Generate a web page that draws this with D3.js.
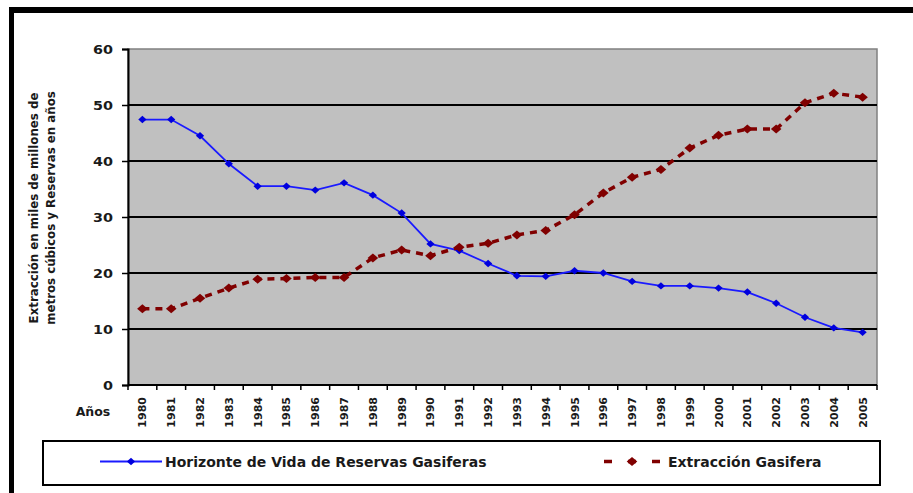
<!DOCTYPE html>
<html>
<head>
<meta charset="utf-8">
<script src="https://cdn.jsdelivr.net/npm/d3@7"></script>
<style>
  html, body { margin: 0; padding: 0; background: #fff; }
  svg { display: block; font-family: "DejaVu Sans", Verdana, sans-serif; }
</style>
</head>
<body>
<svg id="chart" width="913" height="493"></svg>
<script>
// Years on the category axis
const years = ["1980","1981","1982","1983","1984","1985","1986","1987","1988","1989",
               "1990","1991","1992","1993","1994","1995","1996","1997","1998","1999",
               "2000","2001","2002","2003","2004","2005"];
// Reserve life horizon (years)
const reservas = [47.4,47.4,44.5,39.5,35.5,35.5,34.8,36.1,33.9,30.7,
                  25.2,24.0,21.7,19.5,19.4,20.4,20.0,18.5,17.7,17.7,
                  17.3,16.6,14.6,12.1,10.2,9.4];
// Gas extraction (thousand million cubic metres)
const extraccion = [13.6,13.6,15.5,17.3,18.9,19.0,19.2,19.2,22.7,24.1,
                    23.1,24.6,25.3,26.8,27.6,30.4,34.3,37.1,38.5,42.3,
                    44.6,45.7,45.7,50.4,52.1,51.4];
const yTicks = [0,10,20,30,40,50,60];
const seriesNames = ["Horizonte de Vida de Reservas Gasiferas", "Extracción Gasifera"];
const yTitle = ["Extracción en miles de millones de", "metros cúbicos y Reservas en años"];
const xTitle = "Años";

const svg = d3.select("#chart");
const W = 913, H = 493;
const plot = { left: 128, right: 877, top: 49, bottom: 385 };

// Outer frame (top and left edges only)
svg.append("rect").attr("x", 9).attr("y", 7).attr("width", W - 9).attr("height", 6).attr("fill", "#000");
svg.append("rect").attr("x", 9).attr("y", 7).attr("width", 5).attr("height", H - 7).attr("fill", "#000");

const x = d3.scaleBand().domain(years).range([plot.left, plot.right]);
const y = d3.scaleLinear().domain([0, 60]).range([plot.bottom, plot.top]);
const cx = i => x(years[i]) + x.bandwidth() / 2;

// Plot area
svg.append("rect")
  .attr("x", plot.left).attr("y", plot.top)
  .attr("width", plot.right - plot.left).attr("height", plot.bottom - plot.top)
  .attr("fill", "#c0c0c0").attr("stroke", "#808080").attr("stroke-width", 1.5);

// Horizontal gridlines
svg.append("g").selectAll("line")
  .data(yTicks.filter(t => t > 0 && t < 60))
  .join("line")
  .attr("x1", plot.left).attr("x2", plot.right)
  .attr("y1", d => y(d)).attr("y2", d => y(d))
  .attr("stroke", "#000").attr("stroke-width", 2);

// Y axis
const yAxis = svg.append("g")
  .attr("transform", `translate(${plot.left},0)`)
  .call(d3.axisLeft(y).tickValues(yTicks).tickSize(6).tickPadding(5).tickFormat(d3.format("d")));
yAxis.select(".domain").attr("stroke", "#000").attr("stroke-width", 2);
yAxis.selectAll(".tick line").attr("stroke", "#000").attr("stroke-width", 1.5);
yAxis.selectAll(".tick text")
  .attr("font-family", "'DejaVu Sans', sans-serif")
  .attr("font-size", 12.5).attr("font-weight", "bold").attr("fill", "#1a1a1a")
  .attr("transform", "scale(1.15,1)").attr("dx", -2);

// X axis: ticks on band boundaries
const xAxisG = svg.append("g");
xAxisG.append("line")
  .attr("x1", plot.left).attr("x2", plot.right)
  .attr("y1", plot.bottom).attr("y2", plot.bottom)
  .attr("stroke", "#000").attr("stroke-width", 2);
xAxisG.selectAll("line.tk")
  .data(years.concat(["end"]))
  .join("line").attr("class", "tk")
  .attr("x1", d => d === "end" ? plot.right : x(d))
  .attr("x2", d => d === "end" ? plot.right : x(d))
  .attr("y1", plot.bottom).attr("y2", plot.bottom + 5)
  .attr("stroke", "#000").attr("stroke-width", 1.5);
xAxisG.selectAll("text")
  .data(years)
  .join("text")
  .attr("transform", d => `translate(${x(d) + x.bandwidth() / 2 + 4},${plot.bottom + 12}) rotate(-90)`)
  .attr("text-anchor", "end")
  .attr("font-size", 11).attr("font-weight", "bold").attr("fill", "#1a1a1a")
  .text(d => d);

svg.append("text")
  .attr("x", 93).attr("y", 416)
  .attr("text-anchor", "middle")
  .attr("font-size", 12.5).attr("font-weight", "bold").attr("fill", "#1a1a1a")
  .text(xTitle);

// Y axis title (two lines)
yTitle.forEach((t, i) => {
  svg.append("text")
    .attr("transform", `translate(${38 + i * 17},208) rotate(-90)`)
    .attr("text-anchor", "middle")
    .attr("font-size", 11.8).attr("font-weight", "bold").attr("fill", "#1a1a1a")
    .text(t);
});

// Rhombus marker: a square turned 45°, flattened a little
const square = d3.symbol().type(d3.symbolSquare);
const marker = (sel, size, sy) => sel
  .attr("d", square.size(size)())
  .attr("transform", function () {
    return this.getAttribute("data-t") + ` scale(1,${sy}) rotate(45)`;
  });

// Reserve life series
const lineGen = d3.line().x((d, i) => cx(i)).y(d => y(d));
svg.append("path")
  .datum(reservas)
  .attr("d", lineGen)
  .attr("fill", "none").attr("stroke", "#1a1aff").attr("stroke-width", 1.8);
svg.append("g").selectAll("path")
  .data(reservas)
  .join("path")
  .attr("data-t", (d, i) => `translate(${cx(i)},${y(d)})`)
  .call(marker, 34, 0.9)
  .attr("fill", "#0000dd");

// Extraction series
svg.append("path")
  .datum(extraccion)
  .attr("d", lineGen)
  .attr("fill", "none").attr("stroke", "#800000").attr("stroke-width", 3.5)
  .attr("stroke-dasharray", "7,6");
svg.append("g").selectAll("path")
  .data(extraccion)
  .join("path")
  .attr("data-t", (d, i) => `translate(${cx(i)},${y(d)})`)
  .call(marker, 56, 0.85)
  .attr("fill", "#800000");

// Legend
const lg = svg.append("g");
lg.append("rect")
  .attr("x", 43).attr("y", 441).attr("width", 837).attr("height", 44)
  .attr("fill", "#fff").attr("stroke", "#000").attr("stroke-width", 2);
lg.append("line")
  .attr("x1", 100).attr("x2", 162).attr("y1", 461.5).attr("y2", 461.5)
  .attr("stroke", "#1a1aff").attr("stroke-width", 1.8);
lg.append("path")
  .attr("data-t", "translate(131,461.5)")
  .call(marker, 34, 0.9)
  .attr("fill", "#0000dd");
lg.append("text")
  .attr("x", 165).attr("y", 466.5)
  .attr("font-size", 14).attr("font-weight", "bold").attr("fill", "#1a1a1a")
  .text(seriesNames[0]);
lg.append("line")
  .attr("x1", 604).attr("x2", 661).attr("y1", 461.5).attr("y2", 461.5)
  .attr("stroke", "#800000").attr("stroke-width", 3.5)
  .attr("stroke-dasharray", "8,16");
lg.append("path")
  .attr("data-t", "translate(632,461.5)")
  .call(marker, 56, 0.85)
  .attr("fill", "#800000");
lg.append("text")
  .attr("x", 668).attr("y", 466.5)
  .attr("font-size", 14).attr("font-weight", "bold").attr("fill", "#1a1a1a")
  .text(seriesNames[1]);
</script>
</body>
</html>
